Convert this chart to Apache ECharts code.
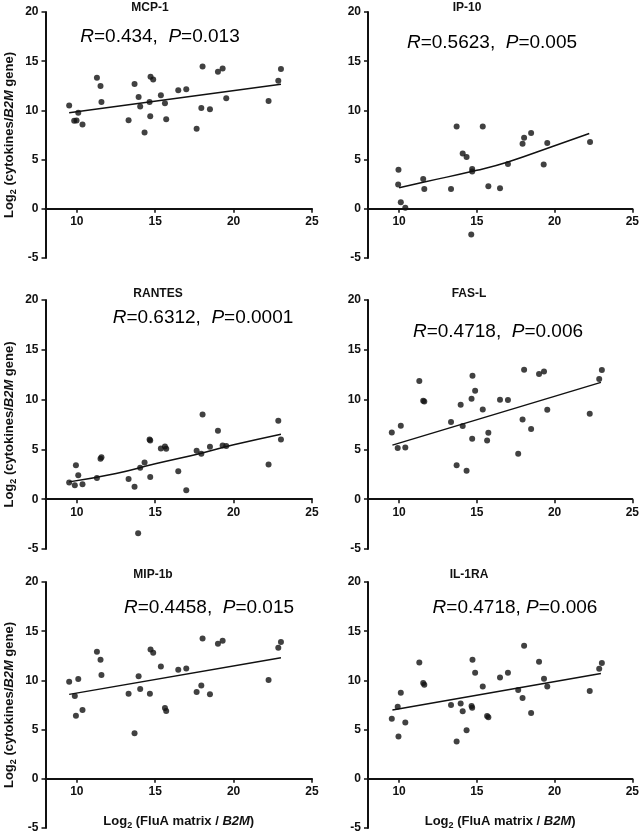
<!DOCTYPE html>
<html>
<head>
<meta charset="utf-8">
<script src="https://cdn.jsdelivr.net/npm/echarts@6/dist/echarts.min.js"></script>
<style>
html,body{margin:0;padding:0;background:#fff;}
#chart{width:642px;height:835px;}
</style>
</head>
<body>
<div id="chart"></div>
<script>
// ---- Data ----
const panelNames = ['MCP-1', 'IP-10', 'RANTES', 'FAS-L', 'MIP-1b', 'IL-1RA'];
const statR = ['0.434', '0.5623', '0.6312', '0.4718', '0.4458', '0.4718'];
const statP = ['0.013', '0.005', '0.0001', '0.006', '0.015', '0.006'];
const xTicks = [10, 15, 20, 25];
const yTicks = [-5, 0, 5, 10, 15, 20];

const xMCP1 = [9.51, 9.83, 9.98, 10.09, 10.36, 11.28, 11.51, 11.57, 13.30, 13.68, 13.94, 14.04, 14.32, 14.64, 14.68, 14.70, 14.87, 15.36, 15.62, 15.70, 16.47, 16.98, 17.64, 17.94, 18.02, 18.49, 19.00, 19.30, 19.53, 22.23, 22.85, 23.02];
const yMCP1 = [10.49, 8.94, 8.97, 9.75, 8.57, 13.32, 12.48, 10.86, 9.00, 12.68, 11.37, 10.39, 7.76, 10.86, 9.41, 13.42, 13.15, 11.53, 10.73, 9.11, 12.04, 12.14, 8.13, 10.25, 14.47, 10.12, 13.93, 14.27, 11.23, 10.96, 13.02, 14.20];
const fitXMCP1 = [9.51, 23.02];
const fitYMCP1 = [9.75, 12.65];

const xIP10 = [9.96, 9.94, 10.11, 10.40, 11.55, 11.62, 13.34, 13.70, 14.09, 14.34, 14.70, 14.70, 14.64, 15.38, 15.74, 16.49, 17.00, 17.94, 18.04, 18.49, 19.30, 19.53, 22.28];
const yIP10 = [3.98, 2.46, 0.67, 0.10, 3.04, 2.02, 2.02, 8.36, 5.63, 5.26, 4.05, 3.78, -2.60, 8.36, 2.29, 2.09, 4.55, 6.61, 7.22, 7.70, 4.49, 6.69, 6.79];
const fitXIP10 = [10.0, 11.55, 15.0, 17.0, 20.0, 22.23];
const fitYIP10 = [2.13, 2.70, 3.91, 4.76, 6.41, 7.66];

const xRANTES = [9.51, 9.87, 9.94, 10.09, 10.36, 11.28, 11.51, 11.57, 13.30, 13.68, 13.91, 14.04, 14.32, 14.64, 14.68, 14.68, 15.36, 15.62, 15.70, 16.47, 16.98, 17.64, 17.94, 18.02, 18.49, 19.00, 19.30, 19.53, 22.23, 22.85, 23.02];
const yRANTES = [1.68, 1.41, 3.42, 2.41, 1.51, 2.14, 4.05, 4.22, 2.04, 1.24, -3.42, 3.15, 3.69, 6.00, 5.90, 2.24, 5.09, 5.29, 5.06, 2.81, 0.90, 4.86, 4.56, 8.51, 5.26, 6.87, 5.39, 5.33, 3.48, 7.87, 6.00];
const fitXRANTES = [9.51, 12.5, 15.0, 17.94, 20.0, 23.02];
const fitYRANTES = [1.74, 2.58, 3.55, 4.62, 5.46, 6.53];

const xFASL = [9.53, 9.91, 10.11, 10.40, 11.30, 11.55, 11.62, 13.34, 13.70, 13.96, 14.09, 14.34, 14.66, 14.72, 14.70, 14.89, 15.38, 15.66, 15.74, 16.49, 17.00, 17.66, 17.94, 18.04, 18.49, 19.00, 19.32, 19.53, 22.26, 22.87, 23.04];
const yFASL = [6.70, 5.13, 7.37, 5.19, 11.86, 9.88, 9.82, 7.74, 3.42, 9.48, 7.34, 2.85, 10.08, 12.40, 6.06, 10.89, 9.01, 5.90, 6.67, 9.98, 9.95, 4.56, 8.01, 13.00, 7.04, 12.56, 12.83, 8.98, 8.58, 12.06, 12.96];
const fitXFASL = [9.57, 22.98];
const fitYFASL = [5.43, 11.73];

const xMIP1b = [9.51, 9.87, 9.94, 10.09, 10.36, 11.28, 11.51, 11.57, 13.30, 13.68, 13.94, 14.04, 14.66, 14.70, 14.87, 15.36, 15.62, 15.70, 16.47, 16.98, 17.64, 17.94, 18.02, 18.49, 19.00, 19.30, 22.23, 22.85, 23.02];
const yMIP1b = [9.86, 8.41, 6.42, 10.14, 6.99, 12.91, 12.09, 10.54, 8.65, 4.63, 10.41, 9.12, 8.65, 13.14, 12.80, 11.42, 7.20, 6.89, 11.08, 11.22, 8.82, 9.49, 14.26, 8.58, 13.72, 14.02, 10.03, 13.31, 13.89];
const fitXMIP1b = [9.51, 23.02];
const fitYMIP1b = [8.58, 12.30];

const xIL1RA = [9.53, 9.91, 10.11, 9.96, 10.40, 11.30, 11.55, 11.62, 13.34, 13.70, 13.96, 14.09, 14.34, 14.66, 14.70, 14.72, 14.89, 15.38, 15.66, 15.74, 16.49, 17.00, 17.66, 17.94, 18.04, 18.49, 19.00, 19.32, 19.53, 22.26, 22.87, 23.04];
const yIL1RA = [6.11, 7.33, 8.75, 4.29, 5.71, 11.82, 9.73, 9.56, 7.50, 3.78, 7.64, 6.86, 4.93, 7.40, 7.23, 12.09, 10.78, 9.39, 6.39, 6.25, 10.30, 10.78, 9.02, 8.21, 13.51, 6.69, 11.89, 10.17, 9.39, 8.92, 11.18, 11.76];
const fitXIL1RA = [9.57, 22.98];
const fitYIL1RA = [6.99, 10.71];

// ---- Build chart ----
const pointsX = [xMCP1, xIP10, xRANTES, xFASL, xMIP1b, xIL1RA];
const pointsY = [yMCP1, yIP10, yRANTES, yFASL, yMIP1b, yIL1RA];
const fitsX = [fitXMCP1, fitXIP10, fitXRANTES, fitXFASL, fitXMIP1b, fitXIL1RA];
const fitsY = [fitYMCP1, fitYIP10, fitYRANTES, fitYFASL, fitYMIP1b, fitYIL1RA];
const zip = (a, b) => a.map((v, i) => [v, b[i]]);

const FONT = '"Liberation Sans", Arial, Helvetica, sans-serif';
const gridPos = [
  {left: 45, top: 12, width: 267, height: 246},
  {left: 368, top: 12, width: 266, height: 246},
  {left: 45, top: 300, width: 267, height: 249},
  {left: 368, top: 300, width: 266, height: 249},
  {left: 45, top: 582, width: 267, height: 246},
  {left: 368, top: 582, width: 266, height: 246}
];
const Y_MIN = -5, Y_MAX = 20;
const titlePos = [[150, 8], [467, 8], [158, 294], [469, 294], [153, 575], [469, 575]];
const statPos = [[160, 37], [492, 43], [203, 318], [498, 332], [209, 608], [515, 608]];

const labelRich = {
  b: {fontFamily: FONT, fontWeight: 'bold', fontSize: 13, color: '#111', lineHeight: 18},
  bi: {fontFamily: FONT, fontWeight: 'bold', fontStyle: 'italic', fontSize: 13, color: '#111', lineHeight: 18},
  s: {fontFamily: FONT, fontWeight: 'bold', fontSize: 9, color: '#111', lineHeight: 10, padding: [8, 0, 0, 0]}
};
const statRich = {
  i: {fontFamily: FONT, fontStyle: 'italic', fontSize: 19, color: '#222'},
  n: {fontFamily: FONT, fontSize: 19, color: '#222'}
};

const grids = [], xAxes = [], yAxes = [], series = [], graphics = [];
for (let k = 0; k < 6; k++) {
  grids.push(Object.assign({containLabel: false}, gridPos[k]));
  const isLeft = k % 2 === 0;
  const isBottom = k >= 4;
  // place the x axis where y = 0 by shifting it up from the grid bottom
  const zeroOffset = -gridPos[k].height * (0 - Y_MIN) / (Y_MAX - Y_MIN);
  xAxes.push({
    type: 'value', gridIndex: k, min: 8, max: 25, position: 'bottom', offset: zeroOffset,
    axisLine: {onZero: false, lineStyle: {color: '#111', width: 2}},
    axisTick: {show: true, length: 4, lineStyle: {color: '#111', width: 1.5}, customValues: xTicks},
    axisLabel: {customValues: xTicks, margin: 7, color: '#111', fontFamily: FONT, fontWeight: 'bold', fontSize: 12},
    splitLine: {show: false},
    name: isBottom ? '{b|Log}{s|2}{b| (FluA matrix / }{bi|B2M}{b|)}' : '',
    nameLocation: 'middle', nameGap: 34,
    nameTextStyle: {rich: labelRich}
  });
  yAxes.push({
    type: 'value', gridIndex: k, min: Y_MIN, max: Y_MAX, interval: 5,
    axisLine: {show: true, onZero: false, lineStyle: {color: '#111', width: 2}},
    axisTick: {show: true, length: 4, lineStyle: {color: '#111', width: 1.5}},
    axisLabel: {margin: 7, color: '#111', fontFamily: FONT, fontWeight: 'bold', fontSize: 12},
    splitLine: {show: false},
    name: isLeft ? '{b|Log}{s|2}{b| (cytokines/}{bi|B2M}{b| gene)}' : '',
    nameLocation: 'middle', nameGap: 27,
    nameTextStyle: {rich: labelRich}
  });
  series.push({
    type: 'scatter', xAxisIndex: k, yAxisIndex: k,
    data: zip(pointsX[k], pointsY[k]),
    symbol: 'circle', symbolSize: 6,
    itemStyle: {color: '#111'}, silent: true
  });
  series.push({
    type: 'line', xAxisIndex: k, yAxisIndex: k,
    data: zip(fitsX[k], fitsY[k]),
    smooth: true, showSymbol: false, symbol: 'none',
    lineStyle: {color: '#111', width: 1.5}, silent: true
  });
  graphics.push({
    type: 'text', x: titlePos[k][0], y: titlePos[k][1],
    style: {text: panelNames[k], fill: '#111', font: 'bold 12px ' + FONT, textAlign: 'center', textVerticalAlign: 'middle'}
  });
  const sep = k === 5 ? ', ' : ',  ';
  graphics.push({
    type: 'text', x: statPos[k][0], y: statPos[k][1],
    style: {
      text: '{i|R}{n|=' + statR[k] + sep + '}{i|P}{n|=' + statP[k] + '}',
      rich: statRich, textAlign: 'center', textVerticalAlign: 'middle'
    }
  });
}

const chart = echarts.init(document.getElementById('chart'), null, {renderer: 'canvas'});
chart.setOption({
  animation: false,
  backgroundColor: '#fff',
  grid: grids,
  xAxis: xAxes,
  yAxis: yAxes,
  series: series,
  graphic: graphics
});
</script>
</body>
</html>
